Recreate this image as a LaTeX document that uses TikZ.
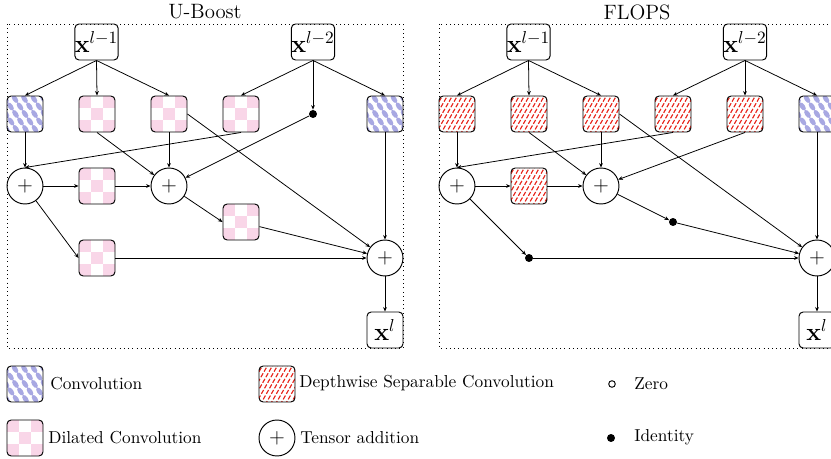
\documentclass[tikz,border=0pt]{standalone}
\usetikzlibrary{arrows.meta}

\definecolor{convblue}{RGB}{168,168,226}
\definecolor{dilpink}{RGB}{249,214,232}
\definecolor{dwsred}{RGB}{232,40,30}

% fill patterns, drawn inside the node outline
\newcommand\convfill{%
  \begin{scope}[sharp corners,shift={(path picture bounding box.center)}]
    \pgfmathsetmacro\ax{4.6*cos(56)}
    \pgfmathsetmacro\ay{4.6*sin(56)}
    \pgfmathsetmacro\bx{-2.5*sin(56)}
    \pgfmathsetmacro\by{2.5*cos(56)}
    \foreach \i in {-4,...,4}{\foreach \j in {-4,...,4}{
      \pgfmathsetmacro\cx{\i*9.5+\j*5}
      \pgfmathsetmacro\cy{\j*7.5}
      \pgfpathellipse{\pgfpointxy{\cx}{\cy}}{\pgfpointxy{\ax}{\ay}}{\pgfpointxy{\bx}{\by}}
      \pgfsetfillcolor{convblue}
      \pgfusepath{fill}
    }}
  \end{scope}}
\newcommand\dilfill{%
  \begin{scope}[sharp corners,shift={(path picture bounding box.center)}]
    \foreach \i in {-2,...,2}{\foreach \j in {-2,...,2}{
      \pgfmathtruncatemacro\chk{\i+\j+4}
      \ifodd\chk\relax\else\fill[dilpink] (\i*12-6,\j*12-6) rectangle +(12,12);\fi
    }}
  \end{scope}}
\newcommand\dwsfill{%
  \begin{scope}[sharp corners,shift={(path picture bounding box.center)}]
    \foreach \k in {-8,...,8}{
      \draw[dwsred,line width=0.65pt,dash pattern=on 2.6pt off 1.1pt] (\k*5-12,21) -- (\k*5+12,-21);
    }
  \end{scope}}

\tikzset{
  opbox/.style={draw,rounded corners=2.4pt,line width=0.55pt,minimum width=20.8pt,
    minimum height=20.8pt,inner sep=0pt},
  convbox/.style={opbox,path picture={\convfill}},
  dilbox/.style={opbox,path picture={\dilfill}},
  dwsbox/.style={opbox,path picture={\dwsfill}},
  iobox/.style={opbox,font=\Large},
  plusnode/.style={draw,circle,line width=0.55pt,minimum size=20.8pt,inner sep=0pt,font=\large},
  iddot/.style={circle,fill=black,minimum size=4.6pt,inner sep=0pt},
  zerodot/.style={circle,draw=black,line width=0.55pt,fill=white,minimum size=3.8pt,inner sep=0pt},
  panel/.style={draw,dotted,line width=0.45pt},
  title/.style={font=\large},
  legtext/.style={anchor=west,inner sep=0pt},
  edge/.style={line width=0.45pt,-{Stealth[length=2.6pt,width=2.2pt]}},
}

\begin{document}
\begin{tikzpicture}[x=0.578pt,y=-0.578pt]
\useasboundingbox (0,0) rectangle (831,459);

% ---------- U-Boost cell ----------
\node[title] (Lt) at (205,12) {U-Boost};
\draw[panel] (7,24) rectangle (403,348);

\node[iobox] (Lx1) at (96.5,42) {$\mathbf{x}^{l-1}$};
\node[iobox] (Lx2) at (313,42) {$\mathbf{x}^{l-2}$};

\node[convbox] (La) at (25,114) {};
\node[dilbox]  (Lb) at (97,114) {};
\node[dilbox]  (Lc) at (169,114) {};
\node[dilbox]  (Ld) at (241,114) {};
\node[iddot]   (Le) at (313,114) {};
\node[convbox] (Lf) at (385,114) {};

\node[plusnode] (Lp1) at (25,186) {$+$};
\node[dilbox]   (Lg)  at (97,186) {};
\node[plusnode] (Lp2) at (169,186) {$+$};
\node[dilbox]   (Lh)  at (241,222) {};
\node[dilbox]   (Li)  at (97,258) {};
\node[plusnode] (Lp3) at (385,258) {$+$};
\node[iobox]    (Lo)  at (385,330) {$\mathbf{x}^{l}$};

\draw[edge] (Lx1.south) -- (La.north);
\draw[edge] (Lx1.south) -- (Lb.north);
\draw[edge] (Lx1.south) -- (Lc.north);
\draw[edge] (Lx2.south) -- (Ld.north);
\draw[edge] (Lx2.south) -- (Le);
\draw[edge] (Lx2.south) -- (Lf.north);
\draw[edge] (La.south) -- (Lp1.north);
\draw[edge] (Ld.south) -- (Lp1.north);
\draw[edge] (Lb.south) -- (Lp2);
\draw[edge] (Lc.south) -- (Lp2.north);
\draw[edge] (Le) -- (Lp2);
\draw[edge] (Lc.east) -- (Lp3);
\draw[edge] (Lf.south) -- (Lp3.north);
\draw[edge] (Lp1) -- (Lg);
\draw[edge] (Lg) -- (Lp2);
\draw[edge] (Lp1) -- (Li.west);
\draw[edge] (Lp2) -- (Lh.west);
\draw[edge] (Lh) -- (Lp3);
\draw[edge] (Li) -- (Lp3);
\draw[edge] (Lp3) -- (Lo);

% ---------- FLOPS cell ----------
\node[title] (Rt) at (637,12) {FLOPS};
\draw[panel] (439,24) rectangle (835,348);

\node[iobox] (Rx1) at (528.5,42) {$\mathbf{x}^{l-1}$};
\node[iobox] (Rx2) at (745,42) {$\mathbf{x}^{l-2}$};

\node[dwsbox]  (Ra) at (457,114) {};
\node[dwsbox]  (Rb) at (529,114) {};
\node[dwsbox]  (Rc) at (601,114) {};
\node[dwsbox]  (Rd) at (673,114) {};
\node[dwsbox]  (Re) at (745,114) {};
\node[convbox] (Rf) at (817,114) {};

\node[plusnode] (Rp1) at (457,186) {$+$};
\node[dwsbox]   (Rg)  at (529,186) {};
\node[plusnode] (Rp2) at (601,186) {$+$};
\node[iddot]    (Rh)  at (673,222) {};
\node[iddot]    (Ri)  at (529,258) {};
\node[plusnode] (Rp3) at (817,258) {$+$};
\node[iobox]    (Ro)  at (817,330) {$\mathbf{x}^{l}$};

\draw[edge] (Rx1.south) -- (Ra.north);
\draw[edge] (Rx1.south) -- (Rb.north);
\draw[edge] (Rx1.south) -- (Rc.north);
\draw[edge] (Rx2.south) -- (Rd.north);
\draw[edge] (Rx2.south) -- (Re.north);
\draw[edge] (Rx2.south) -- (Rf.north);
\draw[edge] (Ra.south) -- (Rp1.north);
\draw[edge] (Rd.south) -- (Rp1.north);
\draw[edge] (Rb.south) -- (Rp2);
\draw[edge] (Rc.south) -- (Rp2.north);
\draw[edge] (Re.south) -- (Rp2);
\draw[edge] (Rc.east) -- (Rp3);
\draw[edge] (Rf.south) -- (Rp3.north);
\draw[edge] (Rp1) -- (Rg);
\draw[edge] (Rg) -- (Rp2);
\draw[edge] (Rp1) -- (Ri);
\draw[edge] (Rp2) -- (Rh);
\draw[edge] (Rh) -- (Rp3);
\draw[edge] (Ri) -- (Rp3);
\draw[edge] (Rp3) -- (Ro);

% ---------- legend ----------
\node[convbox] (k1) at (25,384) {};
\node[legtext] (k1t) at (50,384) {Convolution};
\node[dilbox]  (k2) at (25,438) {};
\node[legtext] (k2t) at (48,438) {Dilated Convolution};
\node[dwsbox]  (k3) at (277,384) {};
\node[legtext] (k3t) at (299,383) {Depthwise Separable Convolution};
\node[plusnode] (k4) at (277,438) {$+$};
\node[legtext] (k4t) at (300,438) {Tensor addition};
\node[zerodot] (k5) at (612,384) {};
\node[legtext] (k5t) at (634,384) {Zero};
\node[iddot]   (k6) at (611,438) {};
\node[legtext] (k6t) at (634,437) {Identity};
\end{tikzpicture}
\end{document}
